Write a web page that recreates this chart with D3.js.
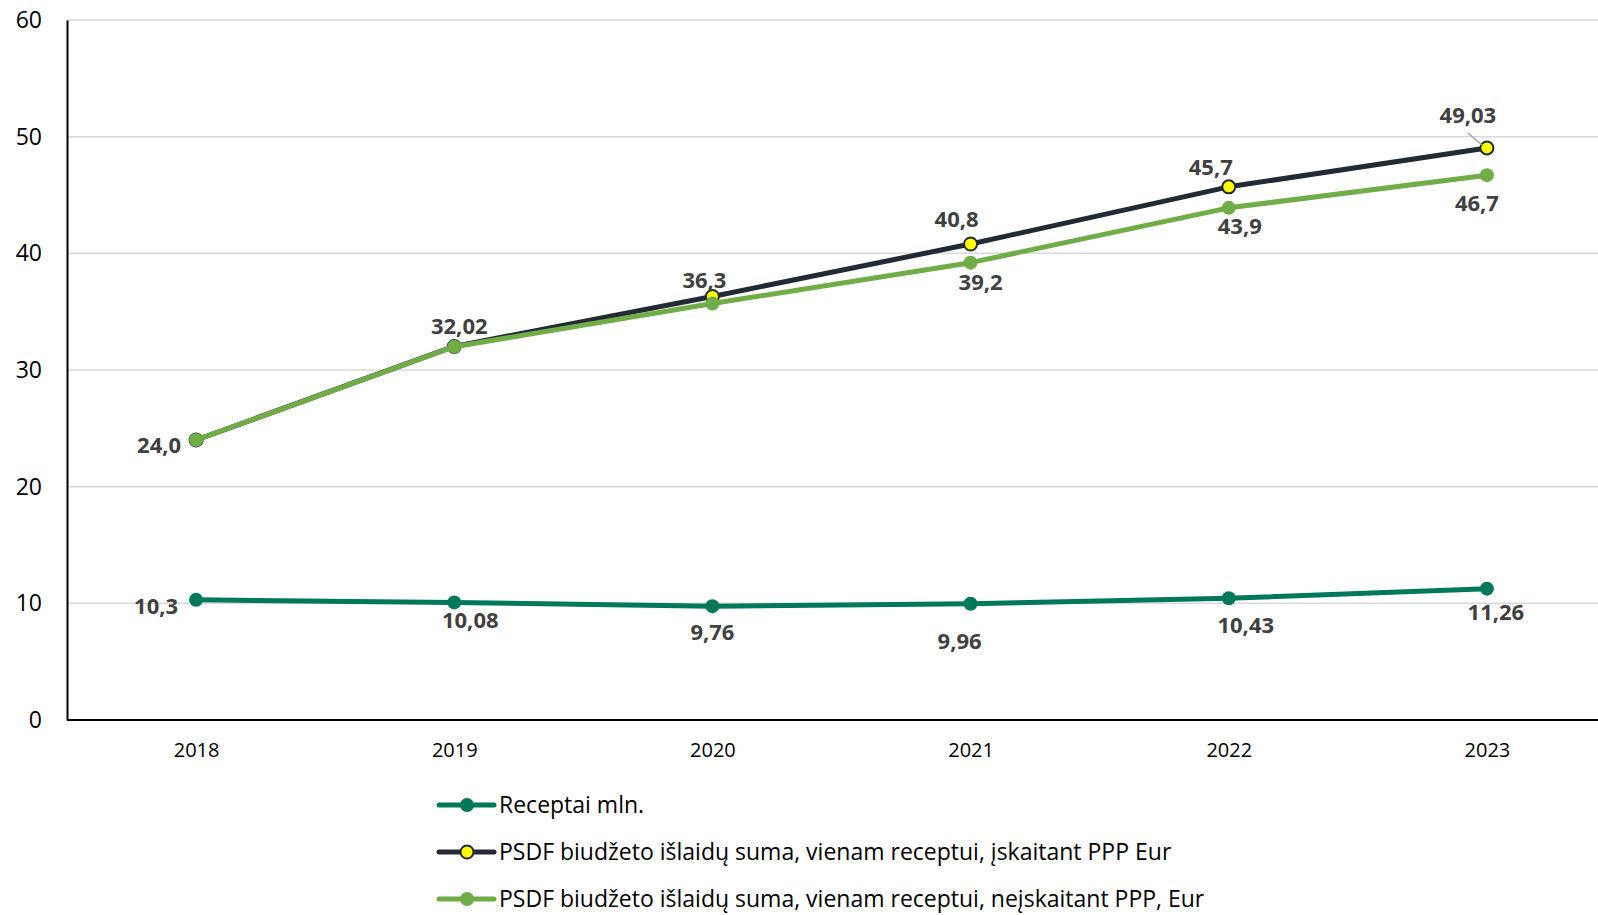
<!DOCTYPE html>
<html><head><meta charset="utf-8">
<script src="https://cdn.jsdelivr.net/npm/d3@7"></script>
<style>
html,body{margin:0;padding:0;background:#fff;}
svg{display:block;font-family:"Open Sans",sans-serif;}
</style></head>
<body><svg id="c" width="1598" height="915"></svg>
<script>
const years = ["2018","2019","2020","2021","2022","2023"];
const receptai = [10.3, 10.08, 9.76, 9.96, 10.43, 11.26];
const suPPP = [24.0, 32.02, 36.3, 40.8, 45.7, 49.03];
const bePPP = [24.0, 32.0, 35.7, 39.2, 43.9, 46.7];
const yTicks = [0, 10, 20, 30, 40, 50, 60];
const seriesNames = [
  "Receptai mln.",
  "PSDF biudžeto išlaidų suma, vienam receptui, įskaitant PPP Eur",
  "PSDF biudžeto išlaidų suma, vienam receptui, neįskaitant PPP, Eur"
];
// data labels: [seriesIndex, yearIndex, text]
const labels = [
  [0,0,"10,3"],[0,1,"10,08"],[0,2,"9,76"],[0,3,"9,96"],[0,4,"10,43"],[0,5,"11,26"],
  [1,1,"32,02"],[1,2,"36,3"],[1,3,"40,8"],[1,4,"45,7"],[1,5,"49,03"],
  [2,0,"24,0"],[2,3,"39,2"],[2,4,"43,9"],[2,5,"46,7"]
];
// label offsets (dx, dy of label centre from its point)
const labelOffsets = [
  [-40,5],[16,17],[0,25],[-11,36],[17,26],[9,22],
  [5,-21],[-8,-18],[-14,-26],[-18,-21],[-19,-34],
  [-37,4],[10,18],[11,17],[-10,27]
];

(function(){
const svg = d3.select("#c");
const mLeft = 67, mTop = 20, mBottom = 720, plotRight = 1616;
const x = d3.scalePoint().domain(years).range([mLeft, plotRight]).padding(0.5);
const y = d3.scaleLinear().domain([0, 60]).range([mBottom, mTop]);

// gridlines
svg.append("g").selectAll("line").data(yTicks.filter(d => d > 0)).join("line")
  .attr("x1", mLeft).attr("x2", 1598)
  .attr("y1", d => y(d)).attr("y2", d => y(d))
  .attr("stroke", "#D9D9D9").attr("stroke-width", 1.5);

// y axis
const yAxis = svg.append("g").attr("transform", `translate(${mLeft},0)`)
  .call(d3.axisLeft(y).tickValues(yTicks).tickSize(0).tickPadding(25));
yAxis.select(".domain").attr("stroke", "#000").attr("stroke-width", 2);
yAxis.selectAll("text").attr("font-size", 23).attr("fill", "#000")
  .attr("font-family", "Open Sans");

// x axis
const xAxis = svg.append("g").attr("transform", `translate(0,${mBottom})`)
  .call(d3.axisBottom(x).tickSize(0).tickPadding(23));
xAxis.select(".domain").attr("d", `M${mLeft},0H1598`).attr("stroke", "#000").attr("stroke-width", 2);
xAxis.selectAll("text").attr("font-size", 20).attr("fill", "#000")
  .attr("font-family", "Open Sans");

const series = [
  {vals: receptai, color: "#00785A", fill: "#00785A", stroke: "none", r: 7},
  {vals: suPPP, color: "#222A35", fill: "#FFFF00", stroke: "#222A35", r: 6.5},
  {vals: bePPP, color: "#70AD47", fill: "#70AD47", stroke: "none", r: 7}
];

const line = d3.line().x((d, i) => x(years[i])).y(d => y(d));
series.forEach(s => {
  const g = svg.append("g");
  g.append("path").datum(s.vals).attr("d", line)
    .attr("fill", "none").attr("stroke", s.color).attr("stroke-width", 5)
    .attr("stroke-linejoin", "round");
  g.selectAll("circle").data(s.vals).join("circle")
    .attr("cx", (d, i) => x(years[i])).attr("cy", d => y(d))
    .attr("r", s.r).attr("fill", s.fill)
    .attr("stroke", s.stroke).attr("stroke-width", s.stroke === "none" ? 0 : 2);
});

// leader line for 49,03
const lx = x(years[5]), ly = y(suPPP[5]);
svg.append("line").attr("x1", lx - 19).attr("y1", ly - 15)
  .attr("x2", lx - 5).attr("y2", ly - 3)
  .attr("stroke", "#A6A6A6").attr("stroke-width", 1.5);

// data labels
svg.append("g").selectAll("text").data(labels).join("text")
  .attr("x", (d, i) => x(years[d[1]]) + labelOffsets[i][0])
  .attr("y", (d, i) => y(series[d[0]].vals[d[1]]) + labelOffsets[i][1])
  .attr("text-anchor", "middle").attr("dominant-baseline", "central")
  .attr("font-size", 22).attr("font-weight", "bold").attr("fill", "#404040")
  .text(d => d[2]);

// legend
const lg = svg.append("g");
const legY = [805, 852, 899];
seriesNames.forEach((name, i) => {
  const s = series[i];
  const row = lg.append("g").attr("transform", `translate(0,${legY[i]})`);
  row.append("line").attr("x1", 439).attr("x2", 494).attr("y1", 0).attr("y2", 0)
    .attr("stroke", s.color).attr("stroke-width", 5).attr("stroke-linecap", "round");
  row.append("circle").attr("cx", 467).attr("cy", 0).attr("r", s.r)
    .attr("fill", s.fill).attr("stroke", s.stroke).attr("stroke-width", s.stroke === "none" ? 0 : 2);
  row.append("text").attr("x", 499).attr("y", 8)
    .attr("font-size", 23).attr("fill", "#000").text(name);
});
})();
</script></body></html>
